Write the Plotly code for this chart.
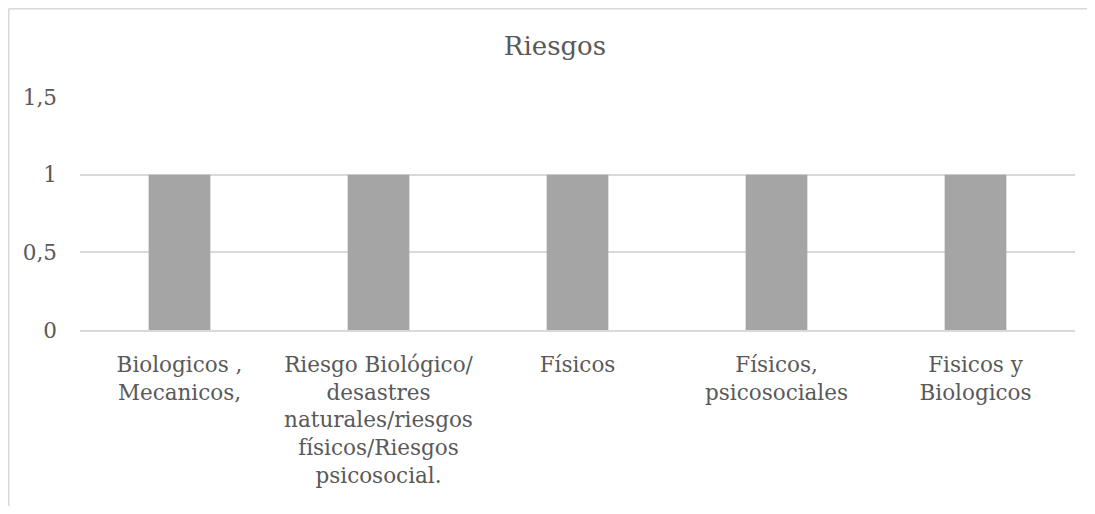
import plotly.graph_objects as go

categories = ["Biologicos ,", "Riesgo Biológico/", "Físicos", "Físicos,", "Fisicos y"]
tick_labels = [
    "Biologicos ,<br>Mecanicos,",
    "Riesgo Biológico/<br>desastres<br>naturales/riesgos<br>físicos/Riesgos<br>psicosocial.",
    "Físicos",
    "Físicos,<br>psicosociales",
    "Fisicos y<br>Biologicos",
]
values = [1, 1, 1, 1, 1]
y_ticks = [0, 0.5, 1, 1.5]
title_text = "Riesgos"

# page body has an 8px margin, so figure coordinates are page coordinates minus 8
OFF = 8
W, H = 1079, 498
L, R, T, B = 80 - OFF, W - (1075 - OFF), 97 - OFF, H - (330 - OFF)
pw, ph = W - L - R, H - T - B

font_family = "DejaVu Serif"
text_color = "#595959"
grid_color = "#D9D9D9"

fig = go.Figure(
    go.Bar(
        x=tick_labels,
        y=values,
        marker=dict(color="#A5A5A5", line=dict(width=0)),
        hoverinfo="skip",
    )
)

fig.update_layout(
    width=W,
    height=H,
    margin=dict(l=L, r=R, t=T, b=B, pad=0),
    paper_bgcolor="white",
    plot_bgcolor="white",
    separators=", ",
    bargap=0.69,
    showlegend=False,
    font=dict(family=font_family, color=text_color, size=21.5),
    title=dict(
        text=title_text,
        x=(555 - OFF) / W,
        xref="container",
        xanchor="center",
        y=1 - (46 - OFF) / H,
        yref="container",
        yanchor="middle",
        font=dict(family=font_family, size=26, color=text_color),
    ),
    xaxis=dict(
        type="category",
        showgrid=False,
        showline=True,
        linecolor=grid_color,
        linewidth=1.5,
        ticks="",
        tickfont=dict(family=font_family, size=21.5, color=text_color),
        ticklabelstandoff=14,
        fixedrange=True,
    ),
    yaxis=dict(
        range=[0, 1.5],
        tickvals=y_ticks,
        showgrid=True,
        gridcolor=grid_color,
        gridwidth=1.5,
        zeroline=False,
        showline=False,
        ticks="",
        tickfont=dict(family=font_family, size=21.5, color=text_color),
        ticklabelstandoff=22,
        fixedrange=True,
    ),
    shapes=[
        dict(
            type="line",
            xref="paper",
            yref="paper",
            x0=-(L - 0.75) / pw,
            x1=(W - L) / pw,
            y0=1 + (T - 0.75) / ph,
            y1=1 + (T - 0.75) / ph,
            line=dict(color=grid_color, width=1.5),
            layer="below",
        ),
        dict(
            type="line",
            xref="paper",
            yref="paper",
            x0=-(L - 0.75) / pw,
            x1=-(L - 0.75) / pw,
            y0=-B / ph,
            y1=1 + (T - 0.75) / ph,
            line=dict(color=grid_color, width=1.5),
            layer="below",
        ),
    ],
)

fig.write_html("out.html", config={"displayModeBar": False})
